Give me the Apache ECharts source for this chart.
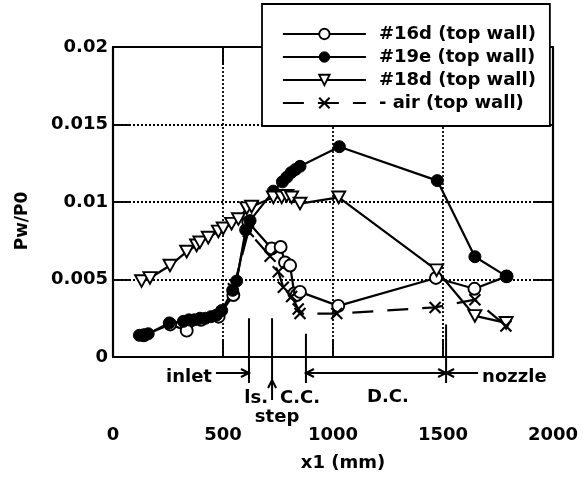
<!DOCTYPE html>
<html><head><meta charset="utf-8">
<script src="https://cdn.jsdelivr.net/npm/echarts@6/dist/echarts.min.js"></script>
<style>html,body{margin:0;padding:0;background:#fff}#c{width:583px;height:485px}</style>
</head><body><div id="c"></div>
<script>
// ---- data ----
const xTicks = [0, 500, 1000, 1500, 2000];
const yTicks = [0, 0.005, 0.01, 0.015, 0.02];
const seriesNames = ['#16d (top wall)', '#19e (top wall)', '#18d (top wall)', 'air (top wall)'];

const x16d = [140, 260, 335, 400, 480, 547, 615, 721, 762, 782, 805, 824, 835, 850, 1024, 1468, 1643, 1789];
const y16d = [0.0014, 0.0021, 0.0017, 0.0024, 0.0026, 0.0040, 0.0087, 0.0070, 0.0071, 0.0061, 0.0059, 0.0041, 0.0040, 0.0042, 0.0033, 0.0051, 0.0044, 0.0052];

const x19e = [120, 140, 160, 256, 320, 345, 370, 395, 420, 445, 470, 494, 544, 562, 603, 623, 729, 770, 790, 810, 830, 850, 1029, 1474, 1645, 1789];
const y19e = [0.0014, 0.0014, 0.0015, 0.0022, 0.0023, 0.0024, 0.0024, 0.0025, 0.0025, 0.0026, 0.0027, 0.0030, 0.0043, 0.0049, 0.0082, 0.0088, 0.0107, 0.0113, 0.0116, 0.0119, 0.0121, 0.0123, 0.01357, 0.01138, 0.00647, 0.0052];

const x18d = [130, 168, 259, 335, 380, 395, 433, 479, 501, 539, 570, 608, 630, 729, 767, 790, 812, 850, 1026, 1471, 1645, 1787];
const y18d = [0.0049, 0.0051, 0.0059, 0.0068, 0.0072, 0.0074, 0.0077, 0.0081, 0.0083, 0.0086, 0.0089, 0.0096, 0.0097, 0.0103, 0.0103, 0.0104, 0.0103, 0.0099, 0.0103, 0.0056, 0.00265, 0.0022];

const xAir = [547, 615, 714, 751, 774, 812, 842, 850, 1017, 1464, 1645, 1786];
const yAir = [0.0044, 0.0081, 0.0065, 0.0055, 0.0045, 0.0039, 0.0031, 0.0028, 0.0028, 0.0032, 0.0037, 0.0020];

// annotation positions along x1 (mm)
const annX = [618, 723, 877, 1514];
const annTop = [0.0025, 0.0025, 0.0015, 0.0021];
const annLabels = ['inlet', 'ls.', 'step', 'C.C.', 'D.C.', 'nozzle'];

// ---- chart ----
const FONT = 'DejaVu Sans';
const chart = echarts.init(document.getElementById('c'), null, {renderer: 'canvas'});
const pairs = (xs, ys) => xs.map((v, i) => [v, ys[i]]);
const TRI = 'path://M0,0L10,0L5,9Z';
const CROSS = 'path://M0,0L10,10M10,0L0,10';

const openStyle = {color: '#fff', borderColor: '#000', borderWidth: 1.9};
const fillStyle = {color: '#000', borderColor: '#000', borderWidth: 1};
const crossStyle = {color: 'none', borderColor: '#000', borderWidth: 2.1};
const dashType = [21, 14];

const splitDot = {show: true, lineStyle: {color: '#000', width: 1.8, type: [2, 2]}};
const axisLine = {show: true, onZero: false, lineStyle: {color: '#000', width: 2.2}};
const tick = {show: true, inside: true, length: 18, lineStyle: {color: '#000', width: 1.9}};
const labelFont = {fontFamily: FONT, fontWeight: 'bold', fontSize: 18, color: '#000'};

const mk = (name, xs, ys, symbol, itemStyle, lineType, size) => ({
  name, type: 'line', data: pairs(xs, ys), symbol, symbolSize: size,
  symbolKeepAspect: true,
  itemStyle, lineStyle: {color: '#000', width: 2.2, type: lineType},
  emphasis: {disabled: true}, animation: false, z: 3
});

chart.setOption({
  animation: false,
  backgroundColor: '#fff',
  grid: {left: 113, right: 30, top: 47, bottom: 128},
  xAxis: [{
    type: 'value', min: xTicks[0], max: xTicks[xTicks.length - 1], interval: 500,
    axisLine, axisTick: tick, splitLine: splitDot,
    axisLabel: Object.assign({margin: 69, formatter: v => String(v)}, labelFont),
    name: 'x1 (mm)', nameLocation: 'middle', nameGap: 97,
    nameTextStyle: Object.assign({padding: [0, 0, 0, 20]}, labelFont)
  }, {
    type: 'value', position: 'top', min: 0, max: 2000, interval: 500,
    axisLine, axisTick: tick, splitLine: {show: false}, axisLabel: {show: false}
  }],
  yAxis: [{
    type: 'value', min: yTicks[0], max: yTicks[yTicks.length - 1], interval: 0.005,
    axisLine, axisTick: tick, splitLine: splitDot,
    axisLabel: Object.assign({margin: 5, formatter: v => String(v)}, labelFont),
    name: 'Pw/P0', nameLocation: 'middle', nameGap: 82, nameRotate: 90,
    nameTextStyle: Object.assign({padding: [0, 38, 0, 0]}, labelFont, {fontSize: 17})
  }, {
    type: 'value', position: 'right', min: 0, max: 0.02, interval: 0.005,
    axisLine, axisTick: tick, splitLine: {show: false}, axisLabel: {show: false}
  }],
  legend: {
    orient: 'vertical', left: 262, top: 4,
    padding: [21, 14, 14, 20],
    itemWidth: 83, itemHeight: 13, itemGap: 5,
    backgroundColor: '#fff', borderColor: '#000', borderWidth: 1.8,
    textStyle: {fontFamily: FONT, fontWeight: 'bold', fontSize: 18, color: '#000', lineHeight: 16, padding: [0, 0, 0, 8]},
    formatter: n => n === seriesNames[3] ? '- ' + n : n,
    selectedMode: false,
    z: 10,
    data: [
      {name: seriesNames[0], itemStyle: openStyle, lineStyle: {color: '#000', width: 1.8, type: 'solid'}},
      {name: seriesNames[1], itemStyle: fillStyle, lineStyle: {color: '#000', width: 1.8, type: 'solid'}},
      {name: seriesNames[2], itemStyle: openStyle, lineStyle: {color: '#000', width: 1.8, type: 'solid'}},
      {name: seriesNames[3], itemStyle: crossStyle, lineStyle: {color: '#000', width: 1.8, type: dashType}}
    ]
  },
  series: [
    mk(seriesNames[0], x16d, y16d, 'circle', openStyle, 'solid', 12),
    mk(seriesNames[1], x19e, y19e, 'circle', fillStyle, 'solid', 12),
    mk(seriesNames[2], x18d, y18d, TRI, openStyle, 'solid', 13),
    mk(seriesNames[3], xAir, yAir, CROSS, crossStyle, dashType, 11)
  ]
});

// ---- annotations (positions derived from the axes) ----
const toPx = (x, y) => chart.convertToPixel({xAxisIndex: 0, yAxisIndex: 0}, [x, y]);
const yBase = toPx(0, 0)[1];
const S = {stroke: '#000', lineWidth: 2, fill: 'none'};
const g = [];
const px = annX.map(v => toPx(v, 0)[0]);
annX.forEach((x, i) => {
  const top = toPx(x, annTop[i])[1];
  const bottom = i === 1 ? yBase + 43 : yBase + 26;
  g.push({type: 'line', shape: {x1: px[i], y1: top, x2: px[i], y2: bottom}, style: S, silent: true, z: 20});
});
const ay = yBase + 16;
const head = (x, y, dir) => { // dir: 'r','l','u'
  let pts;
  if (dir === 'r') pts = [[x - 8, y - 4], [x, y], [x - 8, y + 4]];
  else if (dir === 'l') pts = [[x + 8, y - 4], [x, y], [x + 8, y + 4]];
  else pts = [[x - 4, y + 8], [x, y], [x + 4, y + 8]];
  return {type: 'polyline', shape: {points: pts}, style: S, silent: true, z: 20};
};
const hline = (x1, x2, y) => ({type: 'line', shape: {x1, y1: y, x2, y2: y}, style: S, silent: true, z: 20});
g.push(hline(px[0] - 33, px[0], ay), head(px[0], ay, 'r'));
g.push(hline(px[2], px[3], ay), head(px[2], ay, 'l'), head(px[3], ay, 'r'));
g.push(hline(px[3], px[3] + 32, ay), head(px[3], ay, 'l'));
g.push(head(px[1], yBase + 23, 'u'));
const T = (text, x, y, align) => ({type: 'text', x, y, silent: true, z: 20,
  style: {text, fontFamily: FONT, fontWeight: 'bold', fontSize: 18, fill: '#000', align, verticalAlign: 'middle'}});
g.push(T(annLabels[0], px[0] - 37, yBase + 20, 'right'));
g.push(T(annLabels[1], px[1] - 4, yBase + 41, 'right'));
g.push(T(annLabels[2], px[1] + 5, yBase + 60, 'center'));
g.push(T(annLabels[3], px[1] + 8, yBase + 41, 'left'));
g.push(T(annLabels[4], px[2] + 61, yBase + 40, 'left'));
g.push(T(annLabels[5], px[3] + 36, yBase + 20, 'left'));
chart.setOption({graphic: g});
</script>
</body></html>
